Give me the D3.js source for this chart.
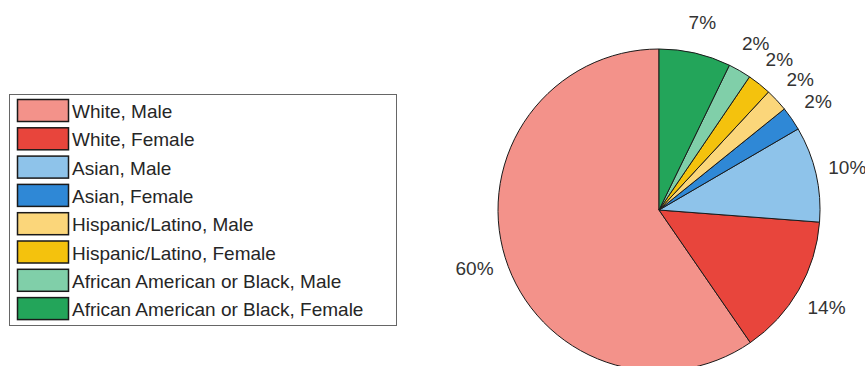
<!DOCTYPE html>
<html lang="en">
<head>
  <meta charset="UTF-8">
  <title>Pie chart by race and gender</title>
  <style>
    body, html {
      margin: 0;
      padding: 0;
      background: white;
    }
    svg {
      display: block;
      font-family: "Liberation Sans", Arial, Helvetica, sans-serif;
    }
  </style>
</head>
<body>
  <script src="https://d3js.org/d3.v7.min.js"></script>
  <script>
    // data (percent of total)
    const groups = [
      'White, Male', 'White, Female',
      'Asian, Male', 'Asian, Female',
      'Hispanic/Latino, Male', 'Hispanic/Latino, Female',
      'African American or Black, Male', 'African American or Black, Female'
    ];
    const shares = [59.6, 14.2, 9.6, 2.4, 2.3, 2.4, 2.3, 7.2];
    const colors = ['#f3928a', '#e8453c', '#8ec3ea', '#2f88d6',
                    '#fbd67a', '#f4c20d', '#80cfa9', '#23a55a'];

    const width = 865;
    const height = 366;

    const svg = d3.select('body')
      .append('svg')
      .attr('width', width)
      .attr('height', height);

    const data = groups.map((g, i) => ({ name: g, value: shares[i], color: colors[i] }));
    const total = d3.sum(shares);

    // pie goes counterclockwise from the top, like MATLAB
    const pie = d3.pie()
      .value(d => d.value)
      .sort(null)
      .startAngle(0)
      .endAngle(-2 * Math.PI);

    const r = 161;
    const arc = d3.arc().innerRadius(0).outerRadius(r);
    const labelArc = d3.arc().innerRadius(r * 1.2).outerRadius(r * 1.2);

    const g = svg.append('g').attr('transform', 'translate(659,210)');

    const arcs = pie(data);

    g.selectAll('path')
      .data(arcs)
      .enter()
      .append('path')
      .attr('d', arc)
      .attr('fill', d => d.data.color)
      .attr('stroke', '#1a1a1a')
      .attr('stroke-width', 1);

    g.selectAll('text')
      .data(arcs)
      .enter()
      .append('text')
      .attr('transform', d => {
        const c = labelArc.centroid(d);
        return `translate(${c[0]},${c[1] + 1})`;
      })
      .attr('text-anchor', 'middle')
      .attr('dominant-baseline', 'central')
      .attr('font-size', 19)
      .attr('fill', '#333')
      .text(d => Math.round(d.data.value / total * 100) + '%');

    // legend
    const legend = svg.append('g');
    const rowH = 28.3;

    legend.append('rect')
      .attr('x', 9.5)
      .attr('y', 94.5)
      .attr('width', 387)
      .attr('height', 231)
      .attr('fill', 'white')
      .attr('stroke', '#666')
      .attr('stroke-width', 1);

    const rows = legend.selectAll('g.row')
      .data(data)
      .enter()
      .append('g')
      .attr('class', 'row')
      .attr('transform', (d, i) => `translate(0,${99 + i * rowH})`);

    rows.append('rect')
      .attr('x', 17.5)
      .attr('y', 0.5)
      .attr('width', 51)
      .attr('height', 22)
      .attr('fill', d => d.color)
      .attr('stroke', '#1a1a1a')
      .attr('stroke-width', 1.5);

    rows.append('text')
      .attr('x', 72)
      .attr('y', 12.5)
      .attr('dominant-baseline', 'central')
      .attr('font-size', 19)
      .attr('fill', '#262626')
      .text(d => d.name);
  </script>
</body>
</html>
